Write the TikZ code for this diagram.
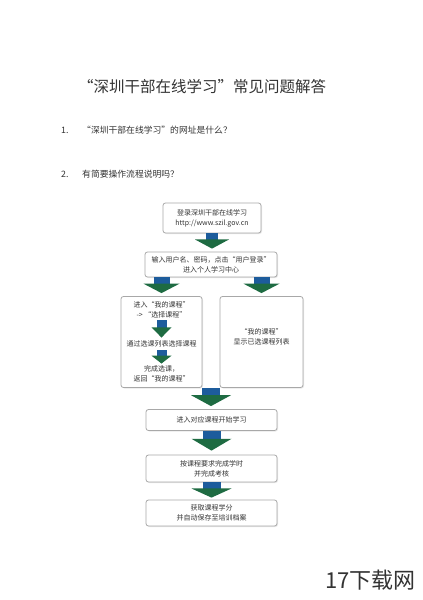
\documentclass[tikz,border=0pt]{standalone}
\usepackage{fontspec}
\setmainfont{Noto Sans CJK SC}
\usetikzlibrary{calc,shadows}
\definecolor{arrblue}{HTML}{1D5C9C}
\definecolor{arrgreen}{HTML}{1E6B42}
\definecolor{boxline}{HTML}{A8A8A8}
\definecolor{txt}{HTML}{333333}
\tikzset{
  flowbox/.style={draw=boxline, line width=0.8pt, rounded corners=2.5pt, fill=white,
    drop shadow={opacity=0.18, shadow xshift=1pt, shadow yshift=-1pt},
    align=center, inner sep=0pt, font=\fontsize{7}{10}\selectfont, text=txt},
  boxtext/.style={align=center, inner sep=0pt, font=\fontsize{7}{10}\selectfont, text=txt},
  qtext/.style={anchor=west, inner sep=0pt, font=\fontsize{8.8}{11}\selectfont, text=txt},
}
% block arrow: #1 start, #2 end, #3 shaft half width, #4 head half width
\newcommand\blockarr[4]{%
  \fill[arrblue] let \p1=#1, \p2=#2 in
    ({\x1-#3pt},\y1) rectangle ({\x1+#3pt},{\y1+0.42*(\y2-\y1)});
  \fill[arrgreen] let \p1=#1, \p2=#2 in
    ({\x1-#4pt},{\y1+0.40*(\y2-\y1)}) -- ({\x1+#4pt},{\y1+0.40*(\y2-\y1)}) -- (\x1,\y2) -- cycle;
}
\begin{document}
\begin{tikzpicture}[x=1pt,y=-1pt]
\useasboundingbox[fill=white] (0,0) rectangle (423,600);

\node[inner sep=0pt, font=\fontsize{15.5}{18}\selectfont, text=txt] (title) at (202,87) {“深圳干部在线学习”常见问题解答};
\node[qtext] (q1n) at (61,130) {1.};
\node[qtext] (q1) at (82,130) {“深圳干部在线学习”的网址是什么？};
\node[qtext] (q2n) at (61,174) {2.};
\node[qtext] (q2) at (82,174) {有简要操作流程说明吗？};

\node[flowbox, minimum width=98pt, minimum height=30pt] (b1) at (212,218)
  {登录深圳干部在线学习\\http://www.szil.gov.cn};
\node[flowbox, minimum width=132pt, minimum height=25pt] (b2) at (211,264.5)
  {输入用户名、密码，点击“用户登录”\\进入个人学习中心};
\node[flowbox, minimum width=81pt, minimum height=91pt] (bl) at (161.5,342) {};
\node[flowbox, minimum width=83pt, minimum height=91pt] (br) at (261.5,342) {};
\node[boxtext] (t1) at (161.5,310) {进入“我的课程”\\-> “选择课程”};
\node[boxtext] (t2) at (161.5,344) {通过选课列表选择课程};
\node[boxtext] (t3) at (161.5,374) {完成选课，\\返回“我的课程”};
\node[boxtext] (tr) at (261.5,337) {“我的课程”\\显示已选课程列表};
\node[flowbox, minimum width=131pt, minimum height=21pt] (b3) at (211.5,420)
  {进入对应课程开始学习};
\node[flowbox, minimum width=131pt, minimum height=27pt] (b4) at (211.5,468.5)
  {按课程要求完成学时\\并完成考核};
\node[flowbox, minimum width=131pt, minimum height=26pt] (b5) at (211.5,513)
  {获取课程学分\\并自动保存至培训档案};

\coordinate (m) at ($(bl.south east)!0.5!(br.south west)$);
\blockarr{(b1.south)}{($(b2.north)+(0,-3)$)}{6}{17}
\blockarr{(b2.south -| bl.north)}{($(bl.north)+(0,-3)$)}{8}{18}
\blockarr{(b2.south -| br.north)}{($(br.north)+(0,-3)$)}{8}{18}
\blockarr{(m)}{($(b3.north)+(0,-3)$)}{9}{20}
\blockarr{(b3.south)}{($(b4.north)+(0,-4)$)}{9}{20}
\blockarr{(b4.south)}{($(b5.north)+(0,-2)$)}{9}{20}
\blockarr{($(t1.south)+(0,2)$)}{($(t2.north)+(0,-3)$)}{5}{10}
\blockarr{($(t2.south)+(0,3)$)}{($(t3.north)+(0,-2)$)}{5}{10}

\node[inner sep=0pt, anchor=east, font=\fontsize{22}{24}\selectfont, text=black!80] (wm) at (416,580) {17下载网};
\end{tikzpicture}
\end{document}
